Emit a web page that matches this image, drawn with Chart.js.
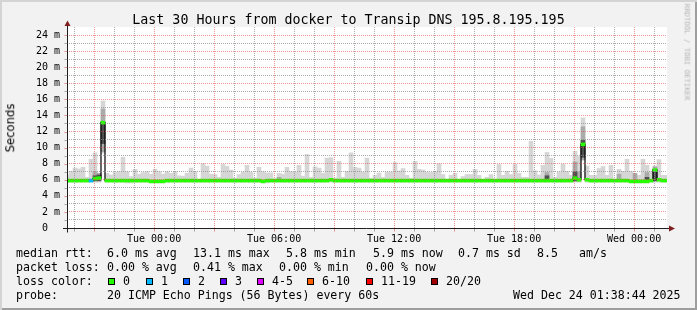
<!DOCTYPE html>
<html>
<head>
<meta charset="utf-8">
<script src="https://cdn.jsdelivr.net/npm/chart.js@4/dist/chart.umd.min.js"></script>
<style>
html,body{margin:0;padding:0;background:#f2f2f2;}
#wrap{position:relative;width:697px;height:310px;background:#f2f2f2;overflow:hidden;font-family:'DejaVu Sans Mono',monospace;color:#000;}
#c{position:absolute;left:0;top:0;}
.t{position:absolute;white-space:pre;font-size:11.6px;line-height:11.6px;}
.box{position:absolute;top:278px;width:5px;height:5px;border:1px solid #000;}
#frame{position:absolute;left:0;top:0;width:697px;height:310px;box-shadow:inset 2px 2px 0 #d4d4d4, inset -2px -2px 0 #9e9e9e;pointer-events:none;}
</style>
</head>
<body>
<div id="wrap">
<canvas id="c" width="697" height="310"></canvas>
<div class="t" style="left:0;width:697px;text-align:center;top:13px;font-size:13.3px;line-height:13.3px">Last 30 Hours from docker to Transip DNS 195.8.195.195</div>
<div class="t" style="left:10.5px;top:128px;font-family:'DejaVu Sans',sans-serif;transform:translate(-50%,-50%) rotate(-90deg)">Seconds</div>
<div class="t" style="left:687px;top:52px;font-size:7.3px;line-height:7.3px;color:#b4b4b4;transform:translate(-50%,-50%) rotate(90deg)">RRDTOOL / TOBI OETIKER</div>

<div class="t" style="left:16px;top:248px">median rtt:</div>
<div class="t" style="left:107px;top:248px">6.0 ms avg</div>
<div class="t" style="left:193px;top:248px">13.1 ms max</div>
<div class="t" style="left:286px;top:248px">5.8 ms min</div>
<div class="t" style="left:373px;top:248px">5.9 ms now</div>
<div class="t" style="left:458px;top:248px">0.7 ms sd</div>
<div class="t" style="left:537px;top:248px">8.5</div>
<div class="t" style="left:579px;top:248px">am/s</div>

<div class="t" style="left:16px;top:262px">packet loss:</div>
<div class="t" style="left:107px;top:262px">0.00 % avg</div>
<div class="t" style="left:193px;top:262px">0.41 % max</div>
<div class="t" style="left:279px;top:262px">0.00 % min</div>
<div class="t" style="left:366px;top:262px">0.00 % now</div>

<div class="t" style="left:16px;top:276px">loss color:</div>
<div id="lossLegend"></div>

<div class="t" style="left:16px;top:290px">probe:</div>
<div class="t" style="left:107px;top:290px">20 ICMP Echo Pings (56 Bytes) every 60s</div>
<div class="t" style="left:513px;top:290px">Wed Dec 24 01:38:44 2025</div>
<div id="frame"></div>
</div>
<script>
// ---- data (hours relative to Tue 00:00; 12-minute bins) ----
const startHour = -4.3544;      // Mon 19:38:44
const spanHours = 30;
const binHours = 0.2;

const smokeMax = [
 6.55,7.05,7.45,7.35,7.55,6.3,8.55,9.35,6.8,15.8,
 6.8,6.6,6.9,7.0,8.8,7.0,6.4,7.3,6.7,6.9,
 7.0,6.7,7.3,7.0,6.7,7.0,6.8,7.0,6.5,6.45,
 6.8,7.45,7.0,6.0,8.0,7.7,6.7,6.65,6.3,7.9,
 7.65,7.2,6.2,6.65,6.95,7.8,6.95,6.2,7.55,7.0,
 6.85,6.85,6.1,6.8,6.7,7.55,7.0,6.95,7.8,6.45,
 9.15,6.3,7.6,7.45,6.8,8.7,8.75,6.2,8.3,6.3,
 7.05,9.35,7.55,7.45,6.95,8.7,6.2,6.55,6.85,6.3,
 6.95,6.95,8.15,7.1,7.4,6.55,6.2,8.3,7.3,7.2,
 6.95,6.9,7.05,8.0,6.65,6.05,6.55,6.8,6.05,6.4,
 6.65,6.65,7.3,6.55,6.05,6.3,6.65,6.05,7.9,6.55,
 7.05,6.65,7.9,6.8,6.3,6.3,10.8,7.1,6.6,7.8,
 9.4,8.65,6.3,6.95,7.95,7.05,6.55,9.55,8.9,13.7,
 7.7,6.55,6.55,7.4,7.65,6.55,7.8,6.05,7.3,7.05,
 8.55,7.05,6.55,6.55,8.55,7.8,7.05,7.7,8.5,6.55,6.55
];
const smokeMin = [
 5.7,5.7,5.7,5.7,5.7,5.7,5.7,5.7,5.7,9.3,
 5.7,5.7,5.7,5.7,5.7,5.6,5.6,5.7,5.7,5.7,
 5.7,5.6,5.6,5.6,5.6,5.7,5.7,5.7,5.7,5.7,
 5.7,5.7,5.7,5.7,5.7,5.7,5.7,5.7,5.7,5.7,
 5.7,5.7,5.7,5.7,5.7,5.7,5.7,5.7,5.7,5.6,
 5.6,5.7,5.7,5.7,5.7,5.7,5.7,5.7,5.7,5.7,
 5.7,5.7,5.7,5.7,5.7,5.7,5.7,5.7,5.7,5.7,
 5.7,5.7,5.7,5.7,5.7,5.7,5.7,5.7,5.7,5.7,
 5.7,5.7,5.7,5.7,5.7,5.7,5.7,5.7,5.7,5.7,
 5.7,5.7,5.7,5.7,5.7,5.7,5.7,5.7,5.7,5.7,
 5.7,5.7,5.7,5.7,5.7,5.7,5.7,5.7,5.7,5.7,
 5.7,5.7,5.7,5.7,5.7,5.7,5.7,5.7,5.7,5.7,
 5.7,5.7,5.7,5.7,5.7,5.7,5.7,5.7,5.7,8.4,
 5.7,5.7,5.7,5.7,5.7,5.7,5.7,5.7,5.7,5.7,
 5.7,5.6,5.6,5.6,5.6,5.6,5.7,5.7,5.7,5.7,5.7
];
const median = [
 5.9,5.9,5.9,5.9,5.9,5.9,5.9,6.15,6.2,13.1,
 5.9,5.9,5.9,5.9,5.9,5.9,5.9,5.9,5.9,5.9,
 5.9,5.8,5.8,5.8,5.8,5.9,5.9,5.9,5.9,5.9,
 5.9,5.9,5.9,5.9,5.9,5.9,5.9,5.9,5.9,5.9,
 5.9,5.9,5.9,5.9,5.9,5.9,5.9,5.9,5.9,5.8,
 5.9,5.9,5.9,5.9,5.9,5.9,5.9,5.9,5.9,5.9,
 5.9,5.9,5.9,5.9,5.9,5.9,6.0,5.9,5.9,5.9,
 5.9,5.9,5.9,5.9,5.9,5.9,5.9,5.9,5.9,5.9,
 5.9,5.9,5.9,5.9,5.9,5.9,5.9,5.9,5.9,5.9,
 5.9,5.9,5.9,5.9,5.9,5.9,5.9,5.9,5.9,5.9,
 5.9,5.9,5.9,5.9,5.9,5.9,5.9,5.9,5.9,5.9,
 5.9,5.9,5.9,5.9,5.9,5.9,5.9,5.9,5.9,5.9,
 5.9,5.9,5.9,5.9,5.9,5.9,5.9,6.2,6.0,10.4,
 6.0,5.9,5.9,5.9,5.9,5.9,5.9,5.9,5.9,5.9,
 5.9,5.8,5.8,5.8,5.8,5.8,5.9,7.2,6.0,5.9,5.9
];
const lossCount = [
 0,0,0,0,0,0,1,0,0,0, 0,0,0,0,0,0,0,0,0,0, 0,0,0,0,0,0,0,0,0,0,
 0,0,0,0,0,0,0,0,0,0, 0,0,0,0,0,0,0,0,0,0, 0,0,0,0,0,0,0,0,0,0,
 0,0,0,0,0,0,0,0,0,0, 0,0,0,0,0,0,0,0,0,0, 0,0,0,0,0,0,0,0,0,0,
 0,0,0,0,0,0,0,0,0,0, 0,0,0,0,0,0,0,0,0,0, 0,0,0,0,0,0,0,0,0,0,
 0,0,0,0,0,0,0,0,0,0, 0,0,0,0,0,0,0,0,0,0, 0,0,0,0,0,0,0,0,0,0,0
];
// darker smoke shades (bin index, low, high)
const midBins = [7, 8, 9, 53, 120, 127, 128, 129, 138, 142, 145, 147];
const midLo   = [5.8, 5.8, 9.5, 5.8, 5.8, 5.8, 5.8, 8.5, 5.8, 5.8, 5.7, 5.8];
const midHi   = [7.0, 6.8, 14.8, 6.3, 6.9, 8.2, 7.0, 12.6, 6.7, 6.8, 6.9, 7.6];
const darkBins = [7, 8, 9, 120, 127, 129, 145, 147];
const darkLo   = [5.9, 5.9, 10.5, 5.9, 5.9, 8.8, 5.8, 5.9];
const darkHi   = [6.5, 6.6, 13.2, 6.5, 7.0, 10.9, 6.3, 7.3];

const tickHours  = [0, 6, 12, 18, 24];
const tickLabels = ['Tue 00:00', 'Tue 06:00', 'Tue 12:00', 'Tue 18:00', 'Wed 00:00'];
const lossLabels = ['0', '1', '2', '3', '4-5', '6-10', '11-19', '20/20'];
const lossColors = ['#26ff00', '#00b8ff', '#0059ff', '#5e00ff', '#dd00ff', '#ff5e00', '#ff0000', '#a10000'];
const lossLegendX = [108, 146, 183, 220, 257, 307, 366, 431];

// ---- legend boxes ----
const lg = document.getElementById('lossLegend');
lossLabels.forEach((lab, i) => {
  const b = document.createElement('div');
  b.className = 'box'; b.style.left = lossLegendX[i] + 'px'; b.style.background = lossColors[i];
  lg.appendChild(b);
  const t = document.createElement('div');
  t.className = 't'; t.style.left = (lossLegendX[i] + 15) + 'px'; t.style.top = '276px'; t.textContent = lab;
  lg.appendChild(t);
});

function lossColor(n) {
  if (n === 0) return lossColors[0];
  if (n === 1) return lossColors[1];
  if (n === 2) return lossColors[2];
  if (n === 3) return lossColors[3];
  if (n <= 5) return lossColors[4];
  if (n <= 10) return lossColors[5];
  if (n <= 19) return lossColors[6];
  return lossColors[7];
}

const xAt = i => startHour + i * binHours;
const MAJOR = 'rgba(222,79,79,0.6)';
const MINOR = 'rgba(143,143,143,0.75)';

const lightData = smokeMax.map((v, i) => ({x: xAt(i), y: [smokeMin[i], v]}));
const midData = midBins.map((b, k) => ({x: xAt(b), y: [midLo[k], midHi[k]]}));
const darkData = darkBins.map((b, k) => ({x: xAt(b), y: [darkLo[k], darkHi[k]]}));
const medLine = median.map((m, i) => ({x: xAt(i), y: m}));
const medBars = median.map((m, i) => ({x: xAt(i), y: [m - 0.18, m + 0.18]}));
const medColors = lossCount.map(lossColor);

const barCommon = {barPercentage: 1, categoryPercentage: 1, grouped: false, borderWidth: 0};

const rrdAxes = {
  id: 'rrdAxes',
  beforeDraw(chart) {
    const {ctx, chartArea: a} = chart;
    ctx.save(); ctx.fillStyle = '#ffffff';
    ctx.fillRect(a.left, a.top, a.right - a.left, a.bottom - a.top);
    ctx.restore();
  },
  afterDraw(chart) {
    const {ctx, chartArea: a, scales: {x, y}} = chart;
    const y0 = Math.round(y.getPixelForValue(0)) + 0.5;
    const x0 = Math.round(a.left) + 0.5;
    ctx.save();
    ctx.lineWidth = 1;
    x.ticks.forEach(t => {
      const px = Math.round(x.getPixelForValue(t.value)) + 0.5;
      ctx.strokeStyle = (t.value % 3 === 0) ? MAJOR : MINOR;
      ctx.beginPath(); ctx.moveTo(px, y0); ctx.lineTo(px, y0 + 3); ctx.stroke();
    });
    y.ticks.forEach(t => {
      const py = Math.round(y.getPixelForValue(t.value)) + 0.5;
      ctx.strokeStyle = (t.value % 2 === 0) ? MAJOR : MINOR;
      ctx.beginPath(); ctx.moveTo(x0 - 3, py); ctx.lineTo(x0, py); ctx.stroke();
    });
    ctx.strokeStyle = '#1f1f1f';
    ctx.beginPath(); ctx.moveTo(a.left - 4, y0); ctx.lineTo(a.right + 3, y0); ctx.stroke();
    ctx.beginPath(); ctx.moveTo(x0, y0 + 4); ctx.lineTo(x0, a.top - 2); ctx.stroke();
    ctx.fillStyle = '#801f1f';
    ctx.beginPath(); ctx.moveTo(a.right + 8, y0); ctx.lineTo(a.right + 2, y0 - 3); ctx.lineTo(a.right + 2, y0 + 3); ctx.closePath(); ctx.fill();
    ctx.beginPath(); ctx.moveTo(x0, a.top - 6.5); ctx.lineTo(x0 - 3, a.top - 1); ctx.lineTo(x0 + 3, a.top - 1); ctx.closePath(); ctx.fill();
    ctx.restore();
  }
};

Chart.defaults.font.family = "'DejaVu Sans Mono', monospace";
Chart.defaults.font.size = 10;
Chart.defaults.color = '#000';

new Chart(document.getElementById('c'), {
  type: 'bar',
  data: {
    datasets: [
      Object.assign({label: 'smoke', data: lightData, backgroundColor: '#d6d6d6', order: 6}, barCommon),
      Object.assign({label: 'smoke2', data: midData, backgroundColor: '#ababab', order: 5}, barCommon),
      Object.assign({label: 'smoke3', data: darkData, backgroundColor: '#505050', order: 4}, barCommon),
      {type: 'line', label: 'medianEdge', data: medLine, borderColor: '#000', borderWidth: 1.2,
       pointRadius: 0, stepped: 'middle', fill: false, order: 3},
      Object.assign({label: 'median', data: medBars, backgroundColor: medColors, order: 1}, barCommon)
    ]
  },
  options: {
    responsive: false,
    animation: false,
    devicePixelRatio: 1,
    layout: {padding: {left: 0, top: 27, right: 30, bottom: 0}},
    plugins: {legend: {display: false}, tooltip: {enabled: false}, title: {display: false}},
    scales: {
      x: {
        type: 'linear', min: startHour, max: startHour + spanHours, offset: false,
        afterBuildTicks(s) {
          const t = [];
          for (let h = Math.ceil(s.min); h <= Math.floor(s.max); h++) t.push({value: h});
          s.ticks = t;
        },
        afterFit(s) { s.height = 82; },
        grid: {
          offset: false, drawTicks: false, z: 1, lineWidth: 1,
          color: c => (c.tick && c.tick.value % 3 === 0) ? MAJOR : MINOR
        },
        border: {display: false, dash: [1, 1]},
        ticks: {
          autoSkip: false, maxRotation: 0, minRotation: 0, padding: 5,
          callback: v => { const k = tickHours.indexOf(v); return k >= 0 ? tickLabels[k] : ''; }
        }
      },
      y: {
        type: 'linear', min: 0, max: 25,
        afterBuildTicks(s) {
          const t = [];
          for (let v = 0; v <= 24; v++) t.push({value: v});
          s.ticks = t;
        },
        afterFit(s) { s.width = 67; },
        grid: {
          drawTicks: false, z: 1, lineWidth: 1,
          color: c => (c.tick && c.tick.value % 2 === 0) ? MAJOR : MINOR
        },
        border: {display: false, dash: [1, 1]},
        ticks: {
          autoSkip: false, padding: 7,
          callback: v => (v % 2 !== 0) ? '' : (v === 0 ? '0  ' : v + ' m')
        }
      }
    }
  },
  plugins: [rrdAxes]
});
</script>
</body>
</html>
